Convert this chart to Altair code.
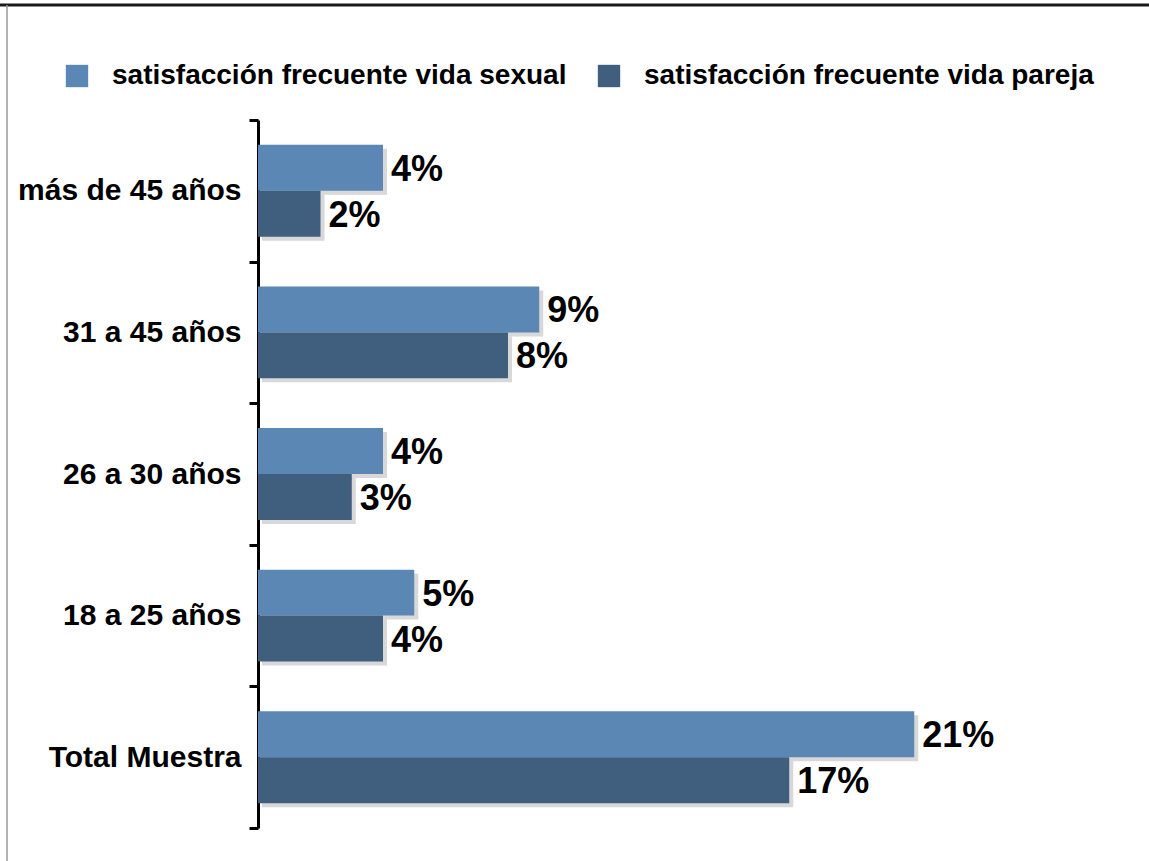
import altair as alt
import pandas as pd

categories = ["más de 45 años", "31 a 45 años", "26 a 30 años", "18 a 25 años", "Total Muestra"]
series = ["satisfacción frecuente vida sexual", "satisfacción frecuente vida pareja"]
sexual = [4, 9, 4, 5, 21]
pareja = [2, 8, 3, 4, 17]
colors = ["#5B87B4", "#405E7E"]

rows = []
for c, a, b in zip(categories, sexual, pareja):
    rows.append({"cat": c, "serie": series[0], "v": a, "lbl": f"{a}%"})
    rows.append({"cat": c, "serie": series[1], "v": b, "lbl": f"{b}%"})
df = pd.DataFrame(rows)

FONT = "Liberation Sans"
W, H = 750, 708

xs = alt.X("v:Q", scale=alt.Scale(domain=[0, 24], nice=False, zero=True), axis=None)
yoff = alt.YOffset("serie:N", sort=series, scale=alt.Scale(paddingInner=0, paddingOuter=0.54))

base = alt.Chart(df)

shadow = base.mark_bar(color="#b8b8b8", opacity=0.55, xOffset=4, x2Offset=3).encode(
    x=xs,
    y=alt.Y("cat:N", sort=categories, axis=None,
            scale=alt.Scale(paddingInner=0, paddingOuter=0, range=[4, H + 4])),
    yOffset=yoff,
)

bars = base.mark_bar().encode(
    x=xs,
    y=alt.Y("cat:N", sort=categories, title=None,
            scale=alt.Scale(paddingInner=0, paddingOuter=0),
            axis=alt.Axis(tickBand="extent", domainColor="black", domainWidth=3,
                          tickColor="black", tickWidth=3, tickSize=9,
                          labelFont=FONT, labelFontSize=30, labelFontWeight="bold",
                          labelColor="black", labelPadding=8, labelLimit=400)),
    yOffset=yoff,
    color=alt.Color("serie:N", sort=series,
                    scale=alt.Scale(domain=series, range=colors),
                    legend=alt.Legend(title=None, orient="none", direction="horizontal",
                                      legendX=-195, legendY=-58,
                                      symbolType="square", symbolSize=500,
                                      symbolStrokeWidth=0, labelOffset=21,
                                      columnPadding=28, labelLimit=700,
                                      labelFont=FONT, labelFontSize=28,
                                      labelFontWeight="bold", labelColor="black")),
)

text = base.mark_text(align="left", baseline="middle", dx=8, dy=2, font=FONT,
                      fontSize=36, fontWeight="bold", color="black").encode(
    x=xs,
    y=alt.Y("cat:N", sort=categories, axis=None,
            scale=alt.Scale(paddingInner=0, paddingOuter=0)),
    yOffset=yoff,
    text="lbl:N",
)

one = alt.Chart(pd.DataFrame({"a": [0]}))
top_line = one.mark_rule(color="#1a1a1a", strokeWidth=3).encode(
    x=alt.value(-258), x2=alt.value(891), y=alt.value(-115))
left_line = one.mark_rule(color="#9a9a9a", strokeWidth=1.5).encode(
    x=alt.value(-251), y=alt.value(-115), y2=alt.value(741))

chart = alt.layer(shadow, bars, text, top_line, left_line).resolve_scale(
    y="independent"
).properties(
    width=W, height=H,
    autosize=alt.AutoSizeParams(type="none"),
    padding={"left": 258, "top": 120, "right": 141, "bottom": 33},
    background="white",
).configure_view(stroke=None)

chart.save("out.html", embed_options={"renderer": "svg", "actions": False})
